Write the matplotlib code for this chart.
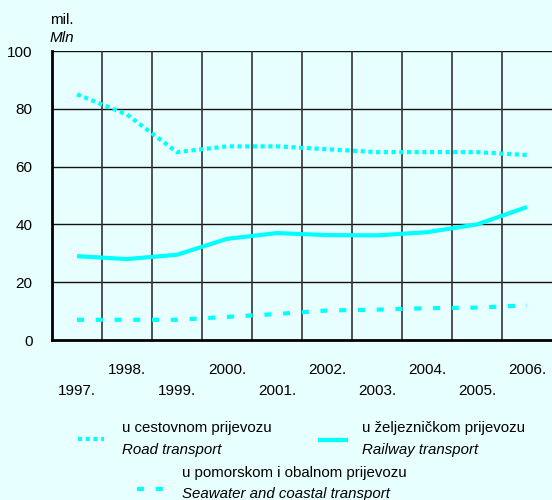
import matplotlib.pyplot as plt
from matplotlib.lines import Line2D

years = ['1997.', '1998.', '1999.', '2000.', '2001.',
         '2002.', '2003.', '2004.', '2005.', '2006.']
road = [85, 78, 65, 67, 67, 66, 65, 65, 65, 64]
railway = [29, 28, 29.5, 35, 37, 36.3, 36.2, 37.3, 40, 46]
sea = [7, 7, 7, 8, 9, 10.2, 10.5, 11, 11.2, 12]

bg = '#e8ffff'
cyan = '#00ffff'

plt.rcParams['font.family'] = ['Liberation Sans', 'DejaVu Sans']

fig = plt.figure(figsize=(5.52, 5.0), dpi=100, facecolor=bg)
ax = fig.add_axes([52 / 552, 160 / 500, 500 / 552, 289 / 500])
ax.set_facecolor(bg)

x = list(range(len(years)))
ax.plot(x, road, color=cyan, lw=3, dashes=(1, 0.85), solid_capstyle='butt', dash_capstyle='butt')
ax.plot(x, railway, color=cyan, lw=3, solid_capstyle='butt')
ax.plot(x, sea, color=cyan, lw=3, dashes=(1.7, 2.8), dash_capstyle='butt')

ax.set_xlim(-0.5, 9.5)
ax.set_ylim(0, 100)

for v in [20, 40, 60, 80, 100]:
    ax.axhline(v, color='#111111', lw=1, zorder=0)
for k in range(1, 10):
    ax.axvline(k - 0.5, color='#333333', lw=1.2, zorder=0)

for s in ['top', 'right']:
    ax.spines[s].set_visible(False)
ax.spines['left'].set_linewidth(2)
ax.spines['bottom'].set_linewidth(2)

ax.set_yticks([0, 20, 40, 60, 80, 100])
ax.set_yticklabels(['0', '20', '40', '60', '80', '100'], fontsize=11)
ax.tick_params(axis='y', length=0, pad=14)
ax.set_xticks([])

for i, lab in enumerate(years):
    yy = -0.105 if i % 2 == 1 else -0.175
    ax.text(i, yy, lab, transform=ax.get_xaxis_transform(), ha='center', va='center', fontsize=11)

fig.text(50 / 552, 1 - 20 / 500, 'mil.', fontsize=11, va='center')
fig.text(50 / 552, 1 - 38 / 500, 'Mln', fontsize=11, style='italic', va='center')

def handle(x0, x1, y, **kw):
    fig.add_artist(Line2D([x0 / 552, x1 / 552], [1 - y / 500, 1 - y / 500], color=cyan, lw=3, **kw))

handle(78, 104, 439, dashes=(1, 0.85), dash_capstyle='butt')
fig.text(122 / 552, 1 - 428 / 500, 'u cestovnom prijevozu', fontsize=10.8, va='center')
fig.text(122 / 552, 1 - 450 / 500, 'Road transport', fontsize=10.8, style='italic', va='center')

handle(318, 348, 440, solid_capstyle='butt')
fig.text(362 / 552, 1 - 428 / 500, 'u željezničkom prijevozu', fontsize=10.8, va='center')
fig.text(362 / 552, 1 - 450 / 500, 'Railway transport', fontsize=10.8, style='italic', va='center')

handle(137, 163, 489, dashes=(1.7, 2.8), dash_capstyle='butt')
fig.text(182 / 552, 1 - 473 / 500, 'u pomorskom i obalnom prijevozu', fontsize=10.8, va='center')
fig.text(182 / 552, 1 - 494 / 500, 'Seawater and coastal transport', fontsize=10.8, style='italic', va='center')

fig.savefig('out.png', dpi=100, facecolor=bg)
